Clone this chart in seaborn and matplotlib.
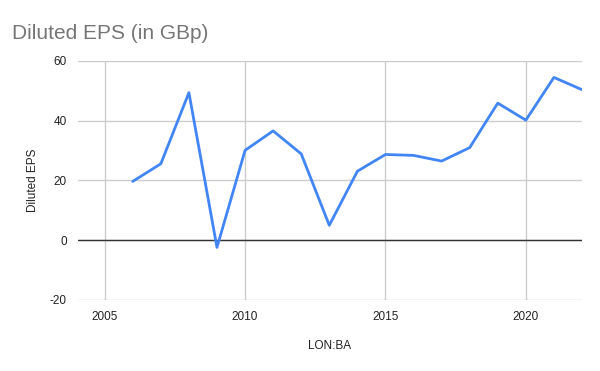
import matplotlib
matplotlib.use("Agg")
import matplotlib.pyplot as plt
import seaborn as sns
import pandas as pd

# EPS values
years = [2006, 2007, 2008, 2009, 2010, 2011, 2012, 2013, 2014,
         2015, 2016, 2017, 2018, 2019, 2020, 2021, 2022]
eps = [19.7, 25.6, 49.4, -2.4, 30.1, 36.6, 28.9, 5.0, 23.1,
       28.7, 28.4, 26.5, 31.0, 45.9, 40.2, 54.5, 50.4]
xticks = [2005, 2010, 2015, 2020]
yticks = [-20, 0, 20, 40, 60]

df = pd.DataFrame({"year": years, "eps": eps})

sns.set_style("white")
plt.rcParams['font.family'] = ['Liberation Sans', 'DejaVu Sans']
plt.rcParams['axes.unicode_minus'] = False

fig = plt.figure(figsize=(6, 3.71), dpi=100)
ax = fig.add_axes([0.13, 0.1914, 0.84, 0.6442])

sns.lineplot(data=df, x="year", y="eps", color="#4285f4", linewidth=2, ax=ax)

ax.set_xlim(2004.05, 2022)
ax.set_ylim(-20, 60)
ax.set_xticks(xticks)
ax.set_yticks(yticks)
ax.grid(True, color="#cccccc", linewidth=1)
ax.axhline(0, color="#333333", linewidth=1, zorder=1.5)
for s in ax.spines.values():
    s.set_visible(False)
ax.tick_params(length=0, labelsize=8.5, colors="#222222", pad=8)

ax.set_xlabel("LON:BA", fontsize=8.5, color="#222222", labelpad=12)
ax.set_ylabel("Diluted EPS", fontsize=8.5, color="#222222", labelpad=8)
fig.text(0.02, 0.895, "Diluted EPS (in GBp)", fontsize=15, color="#757575")

fig.savefig("out.png", dpi=100)
